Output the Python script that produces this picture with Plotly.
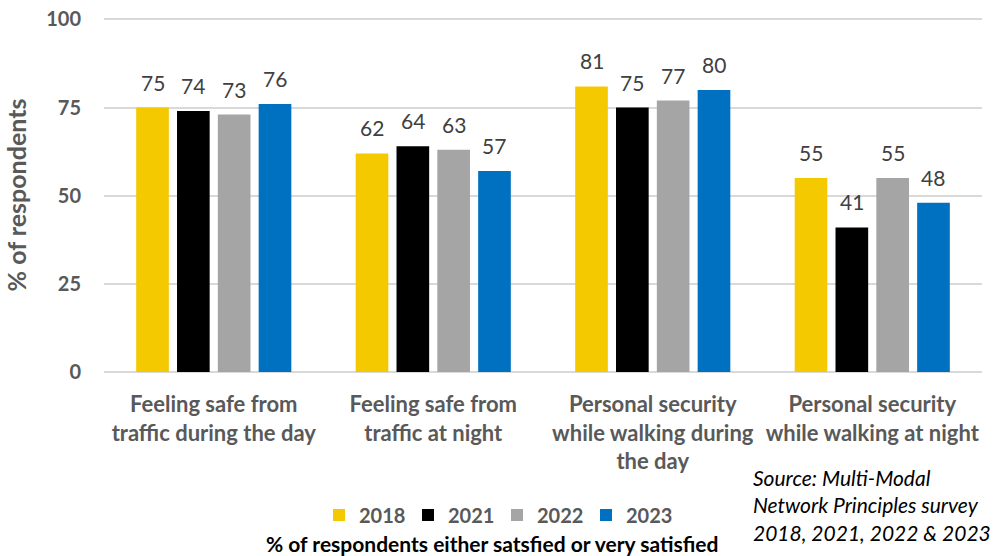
import plotly.graph_objects as go

categories = [
    "Feeling safe from<br>traffic during the day",
    "Feeling safe from<br>traffic at night",
    "Personal security<br>while walking during<br>the day",
    "Personal security<br>while walking at night",
]
years = ["2018", "2021", "2022", "2023"]
v2018 = [75, 62, 81, 55]
v2021 = [74, 64, 75, 41]
v2022 = [73, 63, 77, 55]
v2023 = [76, 57, 80, 48]
series = [v2018, v2021, v2022, v2023]
colors = ["#F5C900", "#000000", "#A5A5A5", "#0070C0"]

FONT = "Lato"
W, H = 994, 556
ML, MR, MT, MB = 104, 12, 18, 184
BARGAP = 0.256
BARGROUPGAP = 0.2
plot_w = W - ML - MR
plot_h = H - MT - MB


def px_x(px):
    return (px - ML) / plot_w


def px_y(py):
    return (H - MB - py) / plot_h


fig = go.Figure()
for name, vals, col in zip(years, series, colors):
    fig.add_trace(go.Bar(
        x=categories, y=vals, name=name, marker=dict(color=col, line=dict(width=0)),
        hoverinfo="y",
    ))

# data labels above bars
slot = plot_w / len(categories) * (1 - BARGAP) / len(years)
for i, vals in enumerate(series):
    for c, v in zip(categories, vals):
        fig.add_annotation(
            x=c, y=v, text=str(v), showarrow=False, xref="x", yref="y",
            xanchor="center", yanchor="bottom",
            xshift=(i - (len(years) - 1) / 2) * slot, yshift=11,
            font=dict(family=FONT, size=21, color="#404040"),
        )

fig.add_annotation(
    text="% of respondents either satsfied or very satisfied",
    xref="paper", yref="paper", x=px_x(492), y=px_y(558),
    showarrow=False, xanchor="center", yanchor="bottom",
    font=dict(family=FONT, size=21, color="#000000", weight="bold"),
)
fig.add_annotation(
    text="<i>Source: Multi-Modal<br>Network Principles survey<br>2018, 2021, 2022 &amp; 2023</i>",
    xref="paper", yref="paper", x=px_x(751), y=px_y(463),
    showarrow=False, xanchor="left", yanchor="top", align="left",
    font=dict(family=FONT, size=21, color="#000000"),
)

fig.update_layout(
    width=W, height=H,
    margin=dict(l=ML, r=MR, t=MT, b=MB, autoexpand=False),
    paper_bgcolor="white", plot_bgcolor="white",
    barmode="group", bargap=BARGAP, bargroupgap=BARGROUPGAP,
    font=dict(family=FONT, color="#595959"),
    legend=dict(
        orientation="h", x=px_x(319), xanchor="left",
        y=px_y(515), yanchor="middle",
        font=dict(family=FONT, size=20, color="#595959", weight="bold"),
        itemwidth=30, traceorder="normal", itemclick=False,
        entrywidth=44, entrywidthmode="pixels",
    ),
    xaxis=dict(
        tickfont=dict(family=FONT, size=22, color="#595959", weight="bold"),
        showline=False, ticks="", showgrid=False, automargin=False,
        ticklabelstandoff=17,
    ),
    yaxis=dict(
        range=[0, 100.4], tickvals=[0, 25, 50, 75, 100], automargin=True,
        tickfont=dict(family=FONT, size=20, color="#595959", weight="bold"),
        showgrid=True, gridcolor="#D9D9D9", gridwidth=1.5,
        zeroline=True, zerolinecolor="#D9D9D9", zerolinewidth=1.5,
        ticks="", ticklen=0, ticklabelstandoff=22, ticklabeloverflow="allow",
        title=dict(text="% of respondents", standoff=12,
                   font=dict(family=FONT, size=25, color="#595959", weight="bold")),
    ),
)

fig.write_html("out.html", config={"displayModeBar": False},
               post_script="document.body.style.margin='0';")
